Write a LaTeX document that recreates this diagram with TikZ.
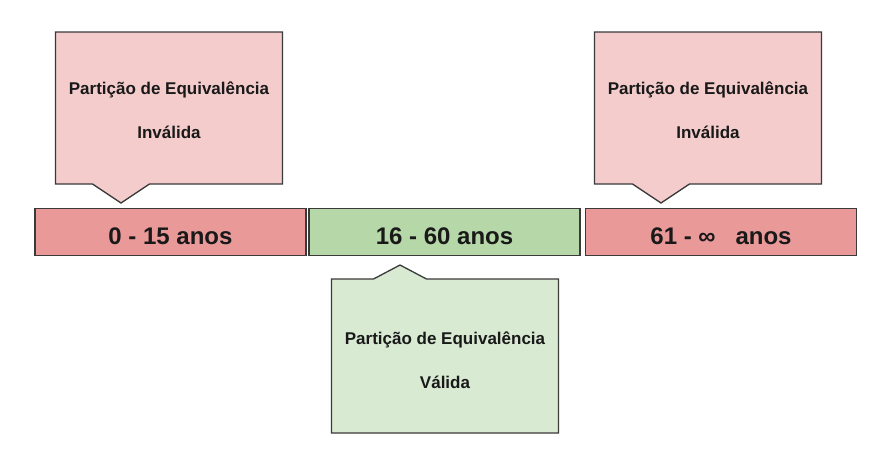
\documentclass[tikz,border=0pt]{standalone}
\usepackage{fontspec}
\setmainfont{Liberation Sans}
\usetikzlibrary{calc}

\definecolor{redbar}{HTML}{EA9999}
\definecolor{rednote}{HTML}{F4CCCC}
\definecolor{greenbar}{HTML}{B6D7A8}
\definecolor{greennote}{HTML}{D9EAD3}
\definecolor{edge}{HTML}{3A3A3A}

\begin{document}
\begin{tikzpicture}[x=1pt,y=-1pt,
	bar/.style={draw=edge,line width=1.3pt,minimum width=271pt,minimum height=47pt,
		inner sep=0pt,text height=24.6pt,text depth=0pt,text=black!90,
		font=\bfseries\fontsize{24}{24}\selectfont},
	note/.style={minimum width=227pt,minimum height=152pt,inner sep=0pt,outer sep=0pt},
	outline/.style={draw=edge,line width=1.3pt,line join=miter},
	notetext/.style={align=center,text=black!90,font=\bfseries\fontsize{17}{44}\selectfont}]

\useasboundingbox (0,0) rectangle (890,448);

\def\w{28.5}

% age ranges
\node[bar,fill=redbar] (barA) at (170.5,232) {0 - 15 anos};
\node[bar,fill=greenbar] (barB) at (444.5,232) {16 - 60 anos};
\node[bar,fill=redbar] (barC) at (721,232) {61 - ∞~~ anos};

% callouts
\node[note] (callA) at (169,108) {};
\node[note] (callC) at (708,108) {};
\node[note,minimum height=154pt] (callB) at (445,356) {};

\foreach \n/\dx in {callA/-48,callC/-47}{
	\draw[outline,fill=rednote] (\n.north west) -- (\n.north east) -- (\n.south east)
		-- ($(\n.south)+(\dx+\w,0)$) -- ($(\n.south)+(\dx,19)$)
		-- ($(\n.south)+(\dx-\w,0)$) -- (\n.south west) -- cycle;
}
\draw[outline,fill=greennote] (callB.south west) -- (callB.south east) -- (callB.north east)
	-- ($(callB.north)+(-45+26.5,0)$) -- ($(callB.north)+(-45,-14)$)
	-- ($(callB.north)+(-45-26.5,0)$) -- (callB.north west) -- cycle;

\node[notetext] at ([yshift=-1.8pt]callA.center) {Partição de Equivalência\\Inválida};
\node[notetext] at ([yshift=-1.8pt]callC.center) {Partição de Equivalência\\Inválida};
\node[notetext] at ([yshift=-4.5pt]callB.center) {Partição de Equivalência\\Válida};

\end{tikzpicture}
\end{document}
